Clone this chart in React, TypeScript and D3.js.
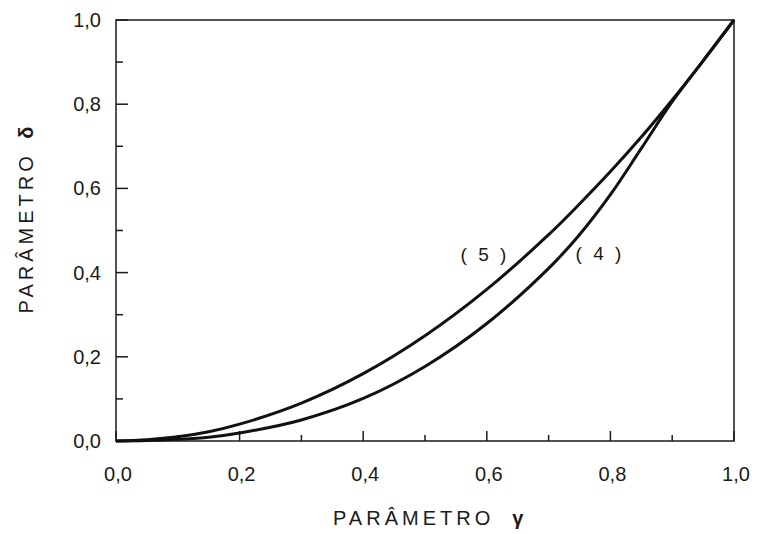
import React from 'react'
import * as d3 from 'd3'

// Parameter gamma sample points (x axis)
const gammaValues = [0, 0.05, 0.1, 0.15, 0.2, 0.3, 0.4, 0.5, 0.6, 0.7, 0.75, 0.8, 0.85, 0.9, 0.95, 1.0]
// Curve (5): upper curve
const delta5 = [0, 0.003, 0.01, 0.022, 0.04, 0.09, 0.16, 0.25, 0.36, 0.49, 0.563, 0.64, 0.722, 0.81, 0.903, 1.0]
// Curve (4): lower curve
const delta4 = [0, 0.001, 0.004, 0.009, 0.019, 0.05, 0.101, 0.177, 0.279, 0.41, 0.49, 0.585, 0.695, 0.806, 0.903, 1.0]

const majorTicks = [0, 0.2, 0.4, 0.6, 0.8, 1.0]
const minorTicks = [0.1, 0.3, 0.5, 0.7, 0.9]
const tickLabels = ['0,0', '0,2', '0,4', '0,6', '0,8', '1,0']

const W = 758
const H = 534
const font = '"Liberation Sans", "DejaVu Sans", sans-serif'
const ink = '#1a1a1a'

export default function App() {
  const x = d3.scaleLinear().domain([0, 1]).range([116, 734])
  const y = d3.scaleLinear().domain([0, 1]).range([441, 20])

  const line = d3.line<[number, number]>()
    .x(d => x(d[0]))
    .y(d => y(d[1]))
    .curve(d3.curveCatmullRom.alpha(0.5))

  const pts5 = gammaValues.map((g, i) => [g, delta5[i]] as [number, number])
  const pts4 = gammaValues.map((g, i) => [g, delta4[i]] as [number, number])

  return (
    <svg width={W} height={H} style={{ position: 'absolute', left: 0, top: 0, background: '#fff' }}>
      {/* frame */}
      <rect x={x(0)} y={y(1)} width={x(1) - x(0)} height={y(0) - y(1)}
        fill="none" stroke={ink} strokeWidth={1.5} />

      {/* y ticks */}
      {majorTicks.map(t => (
        <line key={'ym' + t} x1={x(0)} x2={x(0) + 12} y1={y(t)} y2={y(t)} stroke={ink} strokeWidth={1.5} />
      ))}
      {minorTicks.map(t => (
        <line key={'yn' + t} x1={x(0)} x2={x(0) + 7} y1={y(t)} y2={y(t)} stroke={ink} strokeWidth={1.5} />
      ))}
      {/* x ticks */}
      {majorTicks.map(t => (
        <line key={'xm' + t} x1={x(t)} x2={x(t)} y1={y(0)} y2={y(0) - 10} stroke={ink} strokeWidth={1.5} />
      ))}
      {minorTicks.map(t => (
        <line key={'xn' + t} x1={x(t)} x2={x(t)} y1={y(0)} y2={y(0) - 6} stroke={ink} strokeWidth={1.5} />
      ))}

      {/* tick labels */}
      {majorTicks.map((t, i) => (
        <text key={'yl' + t} x={101} y={y(t)} dy="0.35em" textAnchor="end"
          fontFamily={font} fontSize={20} fill={ink}>{tickLabels[i]}</text>
      ))}
      {majorTicks.map((t, i) => (
        <text key={'xl' + t} x={x(t) + 2} y={481} textAnchor="middle"
          fontFamily={font} fontSize={20} fill={ink}>{tickLabels[i]}</text>
      ))}

      {/* curves */}
      <path d={line(pts5) || ''} fill="none" stroke="#111" strokeWidth={3} />
      <path d={line(pts4) || ''} fill="none" stroke="#111" strokeWidth={3} />

      {/* curve labels */}
      <text x={485} y={261} textAnchor="middle" fontFamily={font} fontSize={19} fill={ink} letterSpacing={3}>( 5 )</text>
      <text x={600} y={260} textAnchor="middle" fontFamily={font} fontSize={19} fill={ink} letterSpacing={3}>( 4 )</text>

      {/* axis titles */}
      <text x={333} y={525} fontFamily={font} fontSize={20} fill={ink} letterSpacing={4}>
        PARÂMETRO
        <tspan dx={18} fontWeight="bold">γ</tspan>
      </text>
      <text transform="translate(33, 218) rotate(-90)" textAnchor="middle"
        fontFamily={font} fontSize={20} fill={ink} letterSpacing={4}>
        PARÂMETRO <tspan dx={4} fontWeight="bold">δ</tspan>
      </text>
    </svg>
  )
}
